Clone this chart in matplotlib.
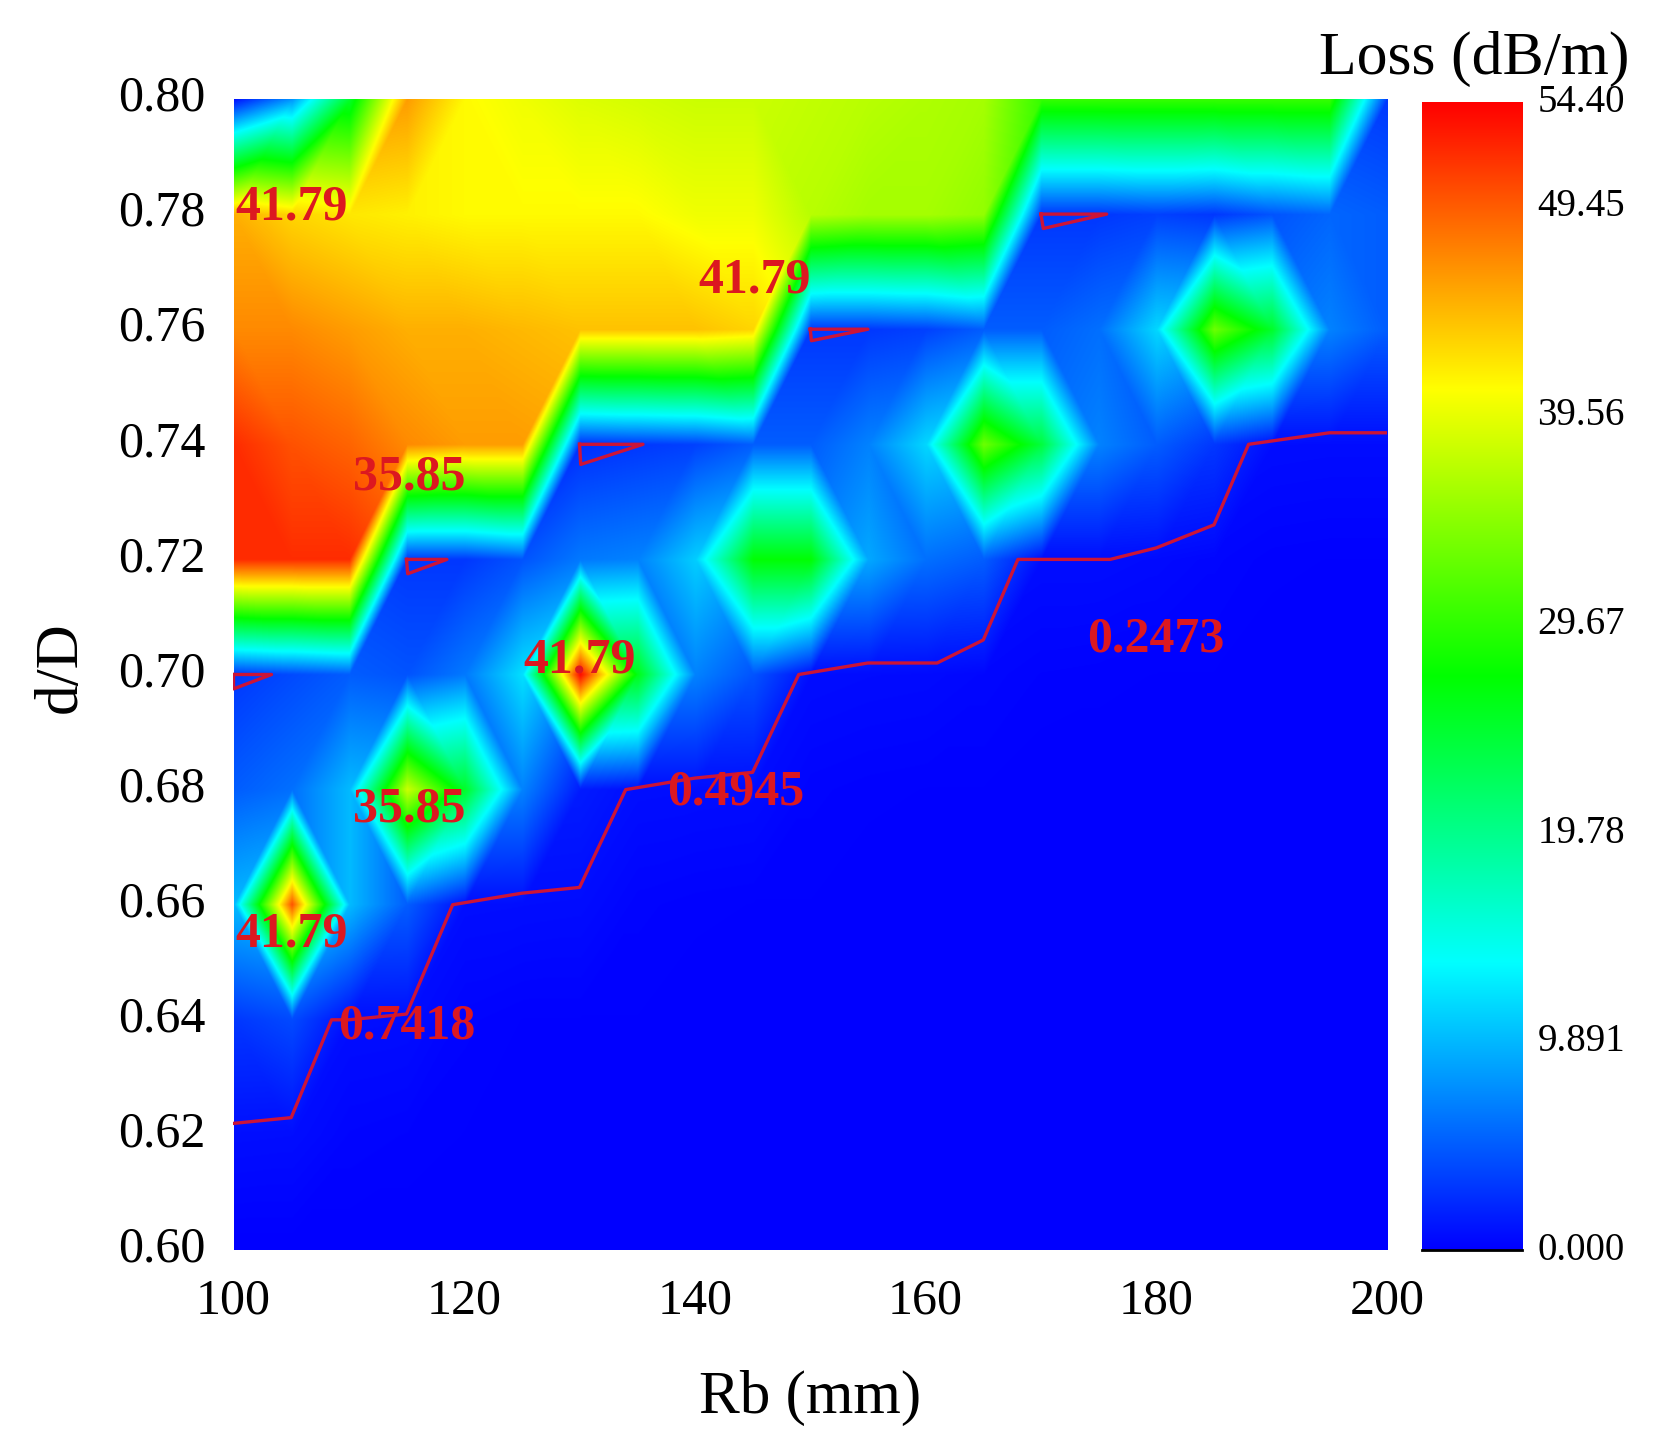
import numpy as np
import matplotlib
matplotlib.use("Agg")
import matplotlib.pyplot as plt
import matplotlib.tri as mtri
from matplotlib.colors import LinearSegmentedColormap
from matplotlib.transforms import ScaledTranslation

rb = np.arange(100, 201, 5)
dd = np.array([0.60, 0.62, 0.64, 0.66, 0.68, 0.70, 0.72, 0.74, 0.76, 0.78, 0.80])

#       100 105 110 115 120 125 130 135 140 145 150 155 160 165 170 175 180 185 190 195 200
r060 = [0]*21
r062 = [.8,.75,.3,.2,.1,.1,0,0,0,0,0,0,0,0,0,0,0,0,0,0,0]
r064 = [3,4,.8,.75,.25,.1,.1,.1,0,0,0,0,0,0,0,0,0,0,0,0,0]
r066 = [10,50,10,5,.8,.75,.7,.25,.15,.1,.1,0,0,0,0,0,0,0,0,0,0]
r068 = [5,6,10,38,25,7,1.5,.8,.75,.7,.25,.15,.1,.1,0,0,0,0,0,0,0]
r070 = [3,4,5,4.5,6.5,12,54,26,7,4.5,.75,.65,.6,.4,.2,.15,.1,.1,0,0,0]
r072 = [52,52,52,3,3,4.5,6.5,7,11,27,27,9,6,5,.75,.75,.6,.35,.15,.1,.1]
r074 = [52,50,49,47,46,46,2.5,3,3.5,5,5,7,11.5,33,24,7,5,3,.75,.7,.7]
r076 = [47,47,46,45,45,44.5,44,44,44,43,3,3,3.5,5,5,6,11.5,33,25,7,5]
r078 = [45,43,42,41.5,41,41,41,41,40,40,37,36,36,35,3,3,3.5,3,4.5,5.5,5]
r080 = [1,8,25,46,41,40,39,38.5,38,38,37.5,37,36.5,36,30,30,30,30,30,30,3]
loss = np.array([r060, r062, r064, r066, r068, r070, r072, r074, r076, r078, r080], dtype=float)

line_rb = [100,105,108.5,110,115,119,125,130,134,140,145,149,155,161,165,168,176,180,185,188,195,200]
line_dd = [.622,.623,.64,.640,.641,.66,.662,.663,.68,.682,.683,.70,.702,.702,.706,.72,.72,.722,.726,.74,.742,.742]

tri_rb = [[100,103.3,100,100],[115,118.5,115.1,115],[130,135.5,130.1,130],[150,155,150.1,150],[170,175.7,170.2,170]]
tri_dd = [[.70,.7,.6975,.70],[.72,.72,.7175,.72],[.74,.74,.7365,.74],[.76,.76,.758,.76],[.78,.78,.7775,.78]]

labels = ["41.79","41.79","35.85","41.79","35.85","41.79","0.2473","0.4945","0.7418"]
label_rb = [105,145.2,115.2,130,115.2,105,180,143.5,115]
label_dd = [.7811,.7684,.7342,.7025,.6765,.6548,.7060,.6795,.6388]

xticks = [100,120,140,160,180,200]
yticks = [0.60,0.62,0.64,0.66,0.68,0.70,0.72,0.74,0.76,0.78,0.80]
cb_ticks = [0.0,9.891,19.78,29.67,39.56,49.45,54.40]
cb_labels = ["0.000","9.891","19.78","29.67","39.56","49.45","54.40"]

plt.rcParams['font.family'] = ['Liberation Serif','DejaVu Serif']
W,H = 1656,1441
fig = plt.figure(figsize=(W/100,H/100),dpi=100)
def box(l,t,r,b):
    return [l/W,1-b/H,(r-l)/W,(b-t)/H]
cmap = LinearSegmentedColormap.from_list("rb",["#0000ff","#00ffff","#00ff00","#ffff00","#ff0000"],N=512)

# each grid cell is split along the diagonal whose two corners differ least
X,Y = np.meshgrid(rb,dd)
nr,nc = loss.shape
z = loss.ravel()
tris=[]
for i in range(nr-1):
    for j in range(nc-1):
        a=i*nc+j; b=a+1; c=a+nc+1; d=a+nc
        if abs(z[a]-z[c]) <= abs(z[b]-z[d]):
            tris += [[a,b,c],[a,c,d]]
        else:
            tris += [[a,b,d],[b,c,d]]
tr = mtri.Triangulation(X.ravel(),(Y.ravel()-.6)*500,tris)
interp = mtri.LinearTriInterpolator(tr,z)
fx = np.linspace(100,200,1160); fy = np.linspace(.60,.80,1152)
FX,FY = np.meshgrid(fx,fy)
Z = np.ma.filled(interp(FX,(FY-.6)*500),0.0)

ax = fig.add_axes(box(233.5,99,1387,1250))
ax.imshow(Z,origin='lower',extent=(100,200,.6,.8),aspect='auto',cmap=cmap,vmin=0,vmax=54.4,interpolation='bilinear')
ax.plot(line_rb,line_dd,color="#cc1438",lw=2.4)
for a,b in zip(tri_rb,tri_dd):
    ax.plot(a,b,color="#cc1438",lw=2.4)
for s,a,b in zip(labels,label_rb,label_dd):
    ax.text(a,b,s,color="#dc1820",fontsize=36,fontweight='bold',ha='center',va='center',clip_on=False)
ax.set_xlim(100,200); ax.set_ylim(.60,.80)
ax.set_xticks(xticks); ax.set_yticks(yticks)
ax.set_yticklabels([f"{v:.2f}" for v in yticks])
ax.tick_params(length=0,labelsize=36)
ax.tick_params(axis='y',pad=20)
ax.tick_params(axis='x',pad=20)
up = ScaledTranslation(0,6/100,fig.dpi_scale_trans)
up2 = ScaledTranslation(0,4/100,fig.dpi_scale_trans)
for t in ax.get_yticklabels(): t.set_transform(t.get_transform()+up)
for s in ax.spines.values(): s.set_visible(False)
fig.text(810/W,1-1398/H,"Rb (mm)",fontsize=44,ha='center',va='center')
fig.text(61/W,1-667/H,"d/D",fontsize=44,ha='center',va='center',rotation=90)

cax = fig.add_axes(box(1422,102,1522,1250))
grad = np.linspace(0,54.4,512)
cax.imshow(grad[:,None],origin='lower',extent=(0,1,0,54.4),aspect='auto',cmap=cmap,vmin=0,vmax=54.4)
cax.set_xlim(0,1); cax.set_ylim(0,54.4)
cax.set_xticks([]); cax.yaxis.tick_right()
cax.set_yticks(cb_ticks); cax.set_yticklabels(cb_labels)
cax.tick_params(length=0,labelsize=28,pad=11)
for t in cax.get_yticklabels(): t.set_transform(t.get_transform()+up2)
for k,s in cax.spines.items(): s.set_visible(False)
cax.spines['bottom'].set_visible(True); cax.spines['bottom'].set_linewidth(2)
fig.text(1474/W,1-59/H,"Loss (dB/m)",fontsize=44.5,ha='center',va='center')
fig.savefig("out.png",dpi=100)
